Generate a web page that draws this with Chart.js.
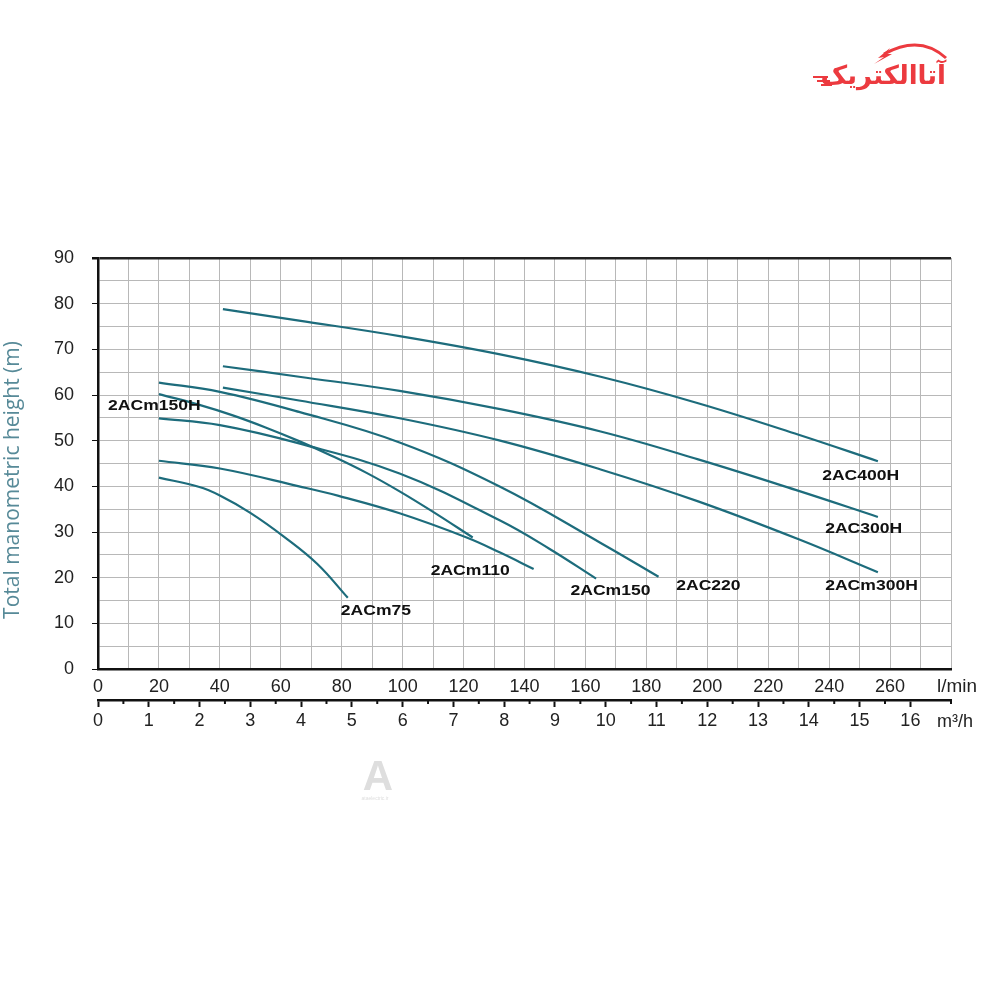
<!DOCTYPE html>
<html>
<head>
<meta charset="utf-8">
<script src="https://cdn.jsdelivr.net/npm/chart.js@4.4.1/dist/chart.umd.min.js"></script>
<style>
  html, body { margin: 0; padding: 0; background: #fff; }
  #wrap { width: 1000px; height: 1000px; }
</style>
</head>
<body>
<div id="wrap"><canvas id="chart" width="1000" height="1000"></canvas></div>
<script>
// pump curves: flow in l/min, head in m
const flow400H = [41, 66, 99, 132, 165, 197, 230, 256];
const head400H = [78.8, 76.3, 72.9, 68.9, 64.0, 58.2, 51.3, 45.5];

const flow300H = [41, 66, 99, 132, 165, 197, 230, 256];
const head300H = [66.3, 64.0, 60.9, 56.9, 52.0, 45.9, 39.0, 33.3];

const flowm300H = [41, 66, 99, 132, 165, 197, 230, 256];
const headm300H = [61.6, 58.8, 54.9, 50.0, 43.7, 36.7, 28.4, 21.2];

const flow220 = [20, 40, 66, 99, 132, 165, 184];
const head220 = [62.7, 60.7, 56.3, 49.6, 39.9, 27.6, 20.2];

const flowm150 = [20, 40, 66, 99, 132, 148, 163.5];
const headm150 = [54.9, 53.4, 49.4, 42.8, 32.5, 26.4, 19.8];

const flowm150H = [20, 33, 44, 55, 66, 77, 88, 99, 110, 123];
const headm150H = [60.2, 57.9, 55.6, 52.9, 49.9, 46.6, 43.0, 38.9, 34.4, 28.8];

const flowm110 = [20, 40, 66, 79, 99, 121, 132, 143];
const headm110 = [45.6, 43.9, 40.0, 37.9, 34.1, 28.8, 25.5, 21.9];

const flowm75 = [20, 33, 40, 50, 61, 72, 82];
const headm75 = [41.9, 39.9, 38.0, 34.2, 29.0, 23.0, 15.6];

// curve names and where their text sits (l/min, m)
const curveNames = ['2ACm150H', '2ACm75', '2ACm110', '2ACm150', '2AC220', '2AC400H', '2AC300H', '2ACm300H'];
const nameFlow = [3.3, 79.7, 109.2, 155.1, 189.8, 237.7, 238.7, 238.7];
const nameHead = [57.6, 12.7, 21.4, 17.1, 18.2, 42.2, 30.6, 18.2];

const flowMax = 280;            // l/min
const m3hMax = 280 * 60 / 1000; // same range in m3/h

const lineColor = '#1d6c7c';
const gridColor = '#b8b8b8';
const tickFont = {family: '"Liberation Sans", Arial, sans-serif', size: 18};

function curve(xs, ys) {
    return {
        data: xs.map((x, i) => ({x: x, y: ys[i]})),
        borderColor: lineColor,
        backgroundColor: lineColor,
        borderWidth: 2.2,
        pointRadius: 0,
        showLine: true,
        tension: 0.4,
        xAxisID: 'x',
        yAxisID: 'y'
    };
}

// text drawn a little wider than the font, like the scanned chart
function wideText(ctx, text, x, y, sx) {
    ctx.save();
    ctx.translate(x, y);
    ctx.scale(sx, 1);
    ctx.fillText(text, 0, 0);
    ctx.restore();
}

const extras = {
    id: 'extras',
    afterDraw(chart) {
        const ctx = chart.ctx;
        const xs = chart.scales.x, ys = chart.scales.y, x2 = chart.scales.x2;
        const area = chart.chartArea;
        ctx.save();

        // short half-step ticks on the m3/h axis
        ctx.strokeStyle = '#111';
        ctx.lineWidth = 2;
        x2.ticks.forEach(t => {
            if (Number.isInteger(t.value)) return;
            const px = x2.getPixelForValue(t.value);
            ctx.beginPath();
            ctx.moveTo(px, x2.top);
            ctx.lineTo(px, x2.top + 4);
            ctx.stroke();
        });

        // curve names
        ctx.fillStyle = '#111';
        ctx.font = 'bold 15px "Liberation Sans", Arial, sans-serif';
        ctx.textAlign = 'left';
        ctx.textBaseline = 'middle';
        curveNames.forEach((name, i) => {
            wideText(ctx, name, xs.getPixelForValue(nameFlow[i]), ys.getPixelForValue(nameHead[i]), 1.17);
        });

        // unit labels
        ctx.font = '18px "Liberation Sans", Arial, sans-serif';
        ctx.fillStyle = '#222';
        wideText(ctx, 'l/min', area.right - 14, area.bottom + 18, 1.05);
        wideText(ctx, 'm³/h', area.right - 14, area.bottom + 53, 1.0);

        // y title
        ctx.translate(13, 480);
        ctx.rotate(-Math.PI / 2);
        ctx.textAlign = 'center';
        ctx.font = '21px "Open Sans", "Noto Sans", sans-serif';
        ctx.fillStyle = '#578a98';
        ctx.fillText('Total manometric height (m)', 0, 0);
        ctx.restore();

        // logo
        ctx.save();
        ctx.fillStyle = '#ec3a3f';
        ctx.strokeStyle = '#ec3a3f';
        ctx.font = 'bold 26px "DejaVu Sans", sans-serif';
        ctx.textAlign = 'right';
        ctx.textBaseline = 'alphabetic';
        ctx.direction = 'rtl';
        ctx.fillText('آتاالکتریک', 946, 84);
        ctx.lineWidth = 3;
        ctx.beginPath();
        ctx.moveTo(884, 54);
        ctx.quadraticCurveTo(920, 34, 946, 58);
        ctx.stroke();
        ctx.beginPath();
        ctx.moveTo(890, 48);
        ctx.lineTo(878, 58);
        ctx.lineTo(884, 57);
        ctx.lineTo(874, 64);
        ctx.lineTo(892, 54);
        ctx.lineTo(886, 54);
        ctx.closePath();
        ctx.fill();
        ctx.lineWidth = 2;
        [[813, 77, 828], [817, 81, 830], [821, 85, 832]].forEach(s => {
            ctx.beginPath();
            ctx.moveTo(s[0], s[1]);
            ctx.lineTo(s[2], s[1]);
            ctx.stroke();
        });
        ctx.restore();

        // faint watermark
        ctx.save();
        ctx.fillStyle = '#dedede';
        ctx.textAlign = 'center';
        ctx.font = 'bold 42px "Liberation Sans", sans-serif';
        ctx.fillText('A', 378, 790);
        ctx.font = '5px "Liberation Sans", sans-serif';
        ctx.fillText('ataelectric.ir', 375, 800);
        ctx.restore();
    }
};

const chart_config = {
    type: 'scatter',
    data: {
        datasets: [
            curve(flow400H, head400H),
            curve(flow300H, head300H),
            curve(flowm300H, headm300H),
            curve(flow220, head220),
            curve(flowm150, headm150),
            curve(flowm150H, headm150H),
            curve(flowm110, headm110),
            curve(flowm75, headm75)
        ]
    },
    options: {
        responsive: false,
        animation: false,
        devicePixelRatio: 1,
        layout: {
            padding: {left: 0, top: 258, right: 49, bottom: 250}
        },
        scales: {
            x: {
                type: 'linear',
                position: 'bottom',
                min: 0,
                max: flowMax,
                afterFit(scale) { scale.height = 31; },
                ticks: {
                    stepSize: 10,
                    autoSkip: false,
                    maxRotation: 0,
                    padding: 7,
                    color: '#222',
                    font: tickFont,
                    callback: v => (v % 20 === 0 && v <= 260) ? v : ''
                },
                grid: {
                    color: gridColor,
                    lineWidth: 1,
                    drawTicks: false
                },
                border: {color: '#111', width: 2.5}
            },
            x2: {
                type: 'linear',
                position: 'bottom',
                min: 0,
                max: m3hMax,
                afterFit(scale) { scale.height = 50; },
                ticks: {
                    stepSize: 0.5,
                    autoSkip: false,
                    maxRotation: 0,
                    padding: 3,
                    color: '#222',
                    font: tickFont,
                    callback: v => Number.isInteger(v) ? v : ''
                },
                grid: {
                    drawOnChartArea: false,
                    tickLength: 7,
                    tickWidth: 2,
                    tickColor: c => c.tick && Number.isInteger(c.tick.value) ? '#111' : 'rgba(0,0,0,0)'
                },
                border: {color: '#111', width: 2.5}
            },
            y: {
                type: 'linear',
                min: 0,
                max: 90,
                afterFit(scale) { scale.width = 98; },
                ticks: {
                    stepSize: 5,
                    autoSkip: false,
                    padding: 18,
                    color: '#222',
                    font: tickFont,
                    callback: v => v % 10 === 0 ? v : ''
                },
                grid: {
                    color: c => c.tick && c.tick.value === 90 ? '#222' : gridColor,
                    lineWidth: c => c.tick && c.tick.value === 90 ? 2.5 : 1,
                    tickLength: 6,
                    tickColor: c => c.tick && c.tick.value % 10 === 0 ? '#111' : 'rgba(0,0,0,0)'
                },
                border: {color: '#111', width: 2.5}
            }
        },
        plugins: {
            legend: {display: false},
            tooltip: {enabled: false}
        }
    },
    plugins: [extras]
};

var chart = new Chart(
    document.getElementById('chart'),
    chart_config
);
</script>
</body>
</html>
